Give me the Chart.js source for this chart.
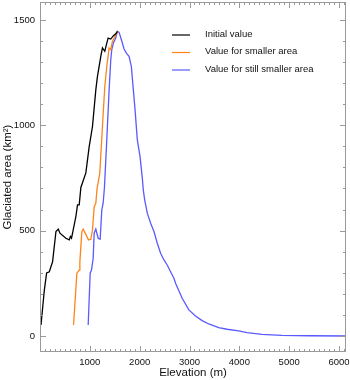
<!DOCTYPE html>
<html>
<head>
<meta charset="utf-8">
<script src="https://cdn.jsdelivr.net/npm/chart.js@4/dist/chart.umd.min.js"></script>
<style>
  html, body { margin: 0; padding: 0; background: #fff; }
  #wrap { width: 350px; height: 380px; }
</style>
</head>
<body>
<div id="wrap"><canvas id="glacierCanvas"></canvas></div>
<script>
// elevation (m) and glaciated area (km2)
var initialElev = [20, 87, 133, 187, 253, 320, 367, 400, 520, 587, 610, 633, 720, 753, 787, 820, 920, 987, 1053, 1120, 1153, 1220, 1253, 1300, 1340, 1367, 1420, 1473, 1520, 1553];
var initialArea = [52, 218, 299, 305, 353, 496, 507, 488, 464, 456, 472, 464, 567, 622, 622, 705, 774, 899, 994, 1168, 1232, 1327, 1367, 1351, 1390, 1414, 1409, 1425, 1434, 1446];

var smallerElev = [673, 740, 787, 800, 840, 867, 940, 973, 1020, 1053, 1087, 1120, 1145, 1200, 1253, 1300, 1340, 1387, 1420, 1453, 1487, 1540, 1567];
var smallerArea = [52, 298, 313, 353, 496, 507, 472, 456, 459, 503, 614, 630, 700, 773, 994, 1184, 1279, 1367, 1359, 1398, 1414, 1438, 1446];

var stillSmallerElev = [967, 1007, 1033, 1067, 1087, 1120, 1167, 1207, 1240, 1267, 1293, 1340, 1387, 1420, 1440, 1473, 1520, 1553, 1587, 1633, 1687, 1740, 1787, 1833, 1873, 1907, 1953, 2007, 2053, 2073, 2100, 2153, 2220, 2287, 2353, 2420, 2487, 2553, 2620, 2687, 2720, 2853, 2987, 3120, 3253, 3387, 3587, 3753, 3987, 4153, 4453, 4853, 5400, 6140];
var stillSmallerArea = [52, 298, 313, 369, 488, 507, 464, 459, 598, 630, 705, 931, 1168, 1311, 1359, 1390, 1414, 1446, 1441, 1406, 1362, 1340, 1327, 1279, 1168, 1074, 931, 852, 749, 693, 646, 583, 535, 496, 440, 393, 361, 337, 305, 274, 250, 179, 124, 95, 73, 57, 40, 32, 24, 16, 8, 3, 1, 0];

var xTickValues = [1000, 2000, 3000, 4000, 5000, 6000];
var yTickValues = [0, 500, 1000, 1500];

function toPoints(xs, ys) {
  return xs.map(function (v, i) { return { x: v, y: ys[i] }; });
}

// frame with inward ticks on all four sides, plus the legend inside the plot
var framePlugin = {
  id: 'frame',
  afterDatasetsDraw: function (chart) {
    var ctx = chart.ctx;
    var a = chart.chartArea;
    var xs = chart.scales.x, ys = chart.scales.y;
    ctx.save();
    ctx.strokeStyle = '#9a9a9a';
    ctx.lineWidth = 1;
    ctx.strokeRect(a.left + 0.5, a.top + 0.5, a.right - a.left - 1, a.bottom - a.top - 1);
    ctx.beginPath();
    for (var v = 0; v <= 6100; v += 100) {
      var px = Math.round(xs.getPixelForValue(v)) + 0.5;
      var len = v % 1000 === 0 ? 6 : 3;
      ctx.moveTo(px, a.bottom); ctx.lineTo(px, a.bottom - len);
      ctx.moveTo(px, a.top); ctx.lineTo(px, a.top + len);
    }
    for (var w = 0; w <= 1500; w += 100) {
      var py = Math.round(ys.getPixelForValue(w)) + 0.5;
      var l2 = w % 500 === 0 ? 6 : 3;
      ctx.moveTo(a.left, py); ctx.lineTo(a.left + l2, py);
      ctx.moveTo(a.right, py); ctx.lineTo(a.right - l2, py);
    }
    ctx.stroke();

    // legend
    ctx.font = '9.5px "Liberation Sans", Arial, sans-serif';
    ctx.textBaseline = 'middle';
    ctx.fillStyle = '#111';
    chart.data.datasets.forEach(function (ds, i) {
      var ly = 34 + i * 17.5;
      ctx.strokeStyle = ds.borderColor;
      ctx.lineWidth = 1.2;
      ctx.beginPath();
      ctx.moveTo(172, ly + 1); ctx.lineTo(190, ly + 1);
      ctx.stroke();
      ctx.fillText(ds.label, 205, ly);
    });
    ctx.restore();
  }
};

var plainLabel = function (v) { return String(v); };

var ctx = document.getElementById('glacierCanvas').getContext('2d');
var glacierChart = new Chart(ctx, {
  type: 'line',
  data: {
    datasets: [{
      label: 'Initial value',
      data: toPoints(initialElev, initialArea),
      borderColor: '#000000',
      borderWidth: 1.3,
      pointRadius: 0,
      fill: false
    }, {
      label: 'Value for smaller area',
      data: toPoints(smallerElev, smallerArea),
      borderColor: '#ff8418',
      borderWidth: 1.3,
      pointRadius: 0,
      fill: false
    }, {
      label: 'Value for still smaller area',
      data: toPoints(stillSmallerElev, stillSmallerArea),
      borderColor: '#5a5aff',
      borderWidth: 1.3,
      pointRadius: 0,
      fill: false
    }]
  },
  options: {
    responsive: true,
    maintainAspectRatio: false,
    animation: false,
    layout: { padding: { top: 2, right: 4, left: 0, bottom: 0 } },
    plugins: {
      legend: { display: false },
      tooltip: { enabled: false }
    },
    scales: {
      x: {
        type: 'linear',
        min: 0,
        max: 6140,
        grid: { display: false, drawTicks: false },
        border: { display: false },
        afterBuildTicks: function (s) { s.ticks = xTickValues.map(function (v) { return { value: v }; }); },
        afterFit: function (s) { s.height = 28; s.paddingLeft = 0; s.paddingRight = 0; },
        ticks: {
          padding: 5,
          maxRotation: 0,
          color: '#111',
          callback: plainLabel,
          font: { family: '"Liberation Sans", Arial, sans-serif', size: 9.5 }
        },
        title: {
          display: true,
          text: 'Elevation (m)',
          color: '#111',
          padding: { top: 0, bottom: 0 },
          font: { family: '"Liberation Sans", Arial, sans-serif', size: 11.5 }
        }
      },
      y: {
        type: 'linear',
        min: -76,
        max: 1585,
        grid: { display: false, drawTicks: false },
        border: { display: false },
        afterBuildTicks: function (s) { s.ticks = yTickValues.map(function (v) { return { value: v }; }); },
        afterFit: function (s) { s.width = 40; s.paddingTop = 0; s.paddingBottom = 0; },
        ticks: {
          padding: 5,
          color: '#111',
          callback: plainLabel,
          font: { family: '"Liberation Sans", Arial, sans-serif', size: 9.5 }
        },
        title: {
          display: true,
          text: 'Glaciated area (km²)',
          color: '#111',
          padding: { top: 1, bottom: 0 },
          font: { family: '"Liberation Sans", Arial, sans-serif', size: 11.5 }
        }
      }
    }
  },
  plugins: [framePlugin]
});
</script>
</body>
</html>
